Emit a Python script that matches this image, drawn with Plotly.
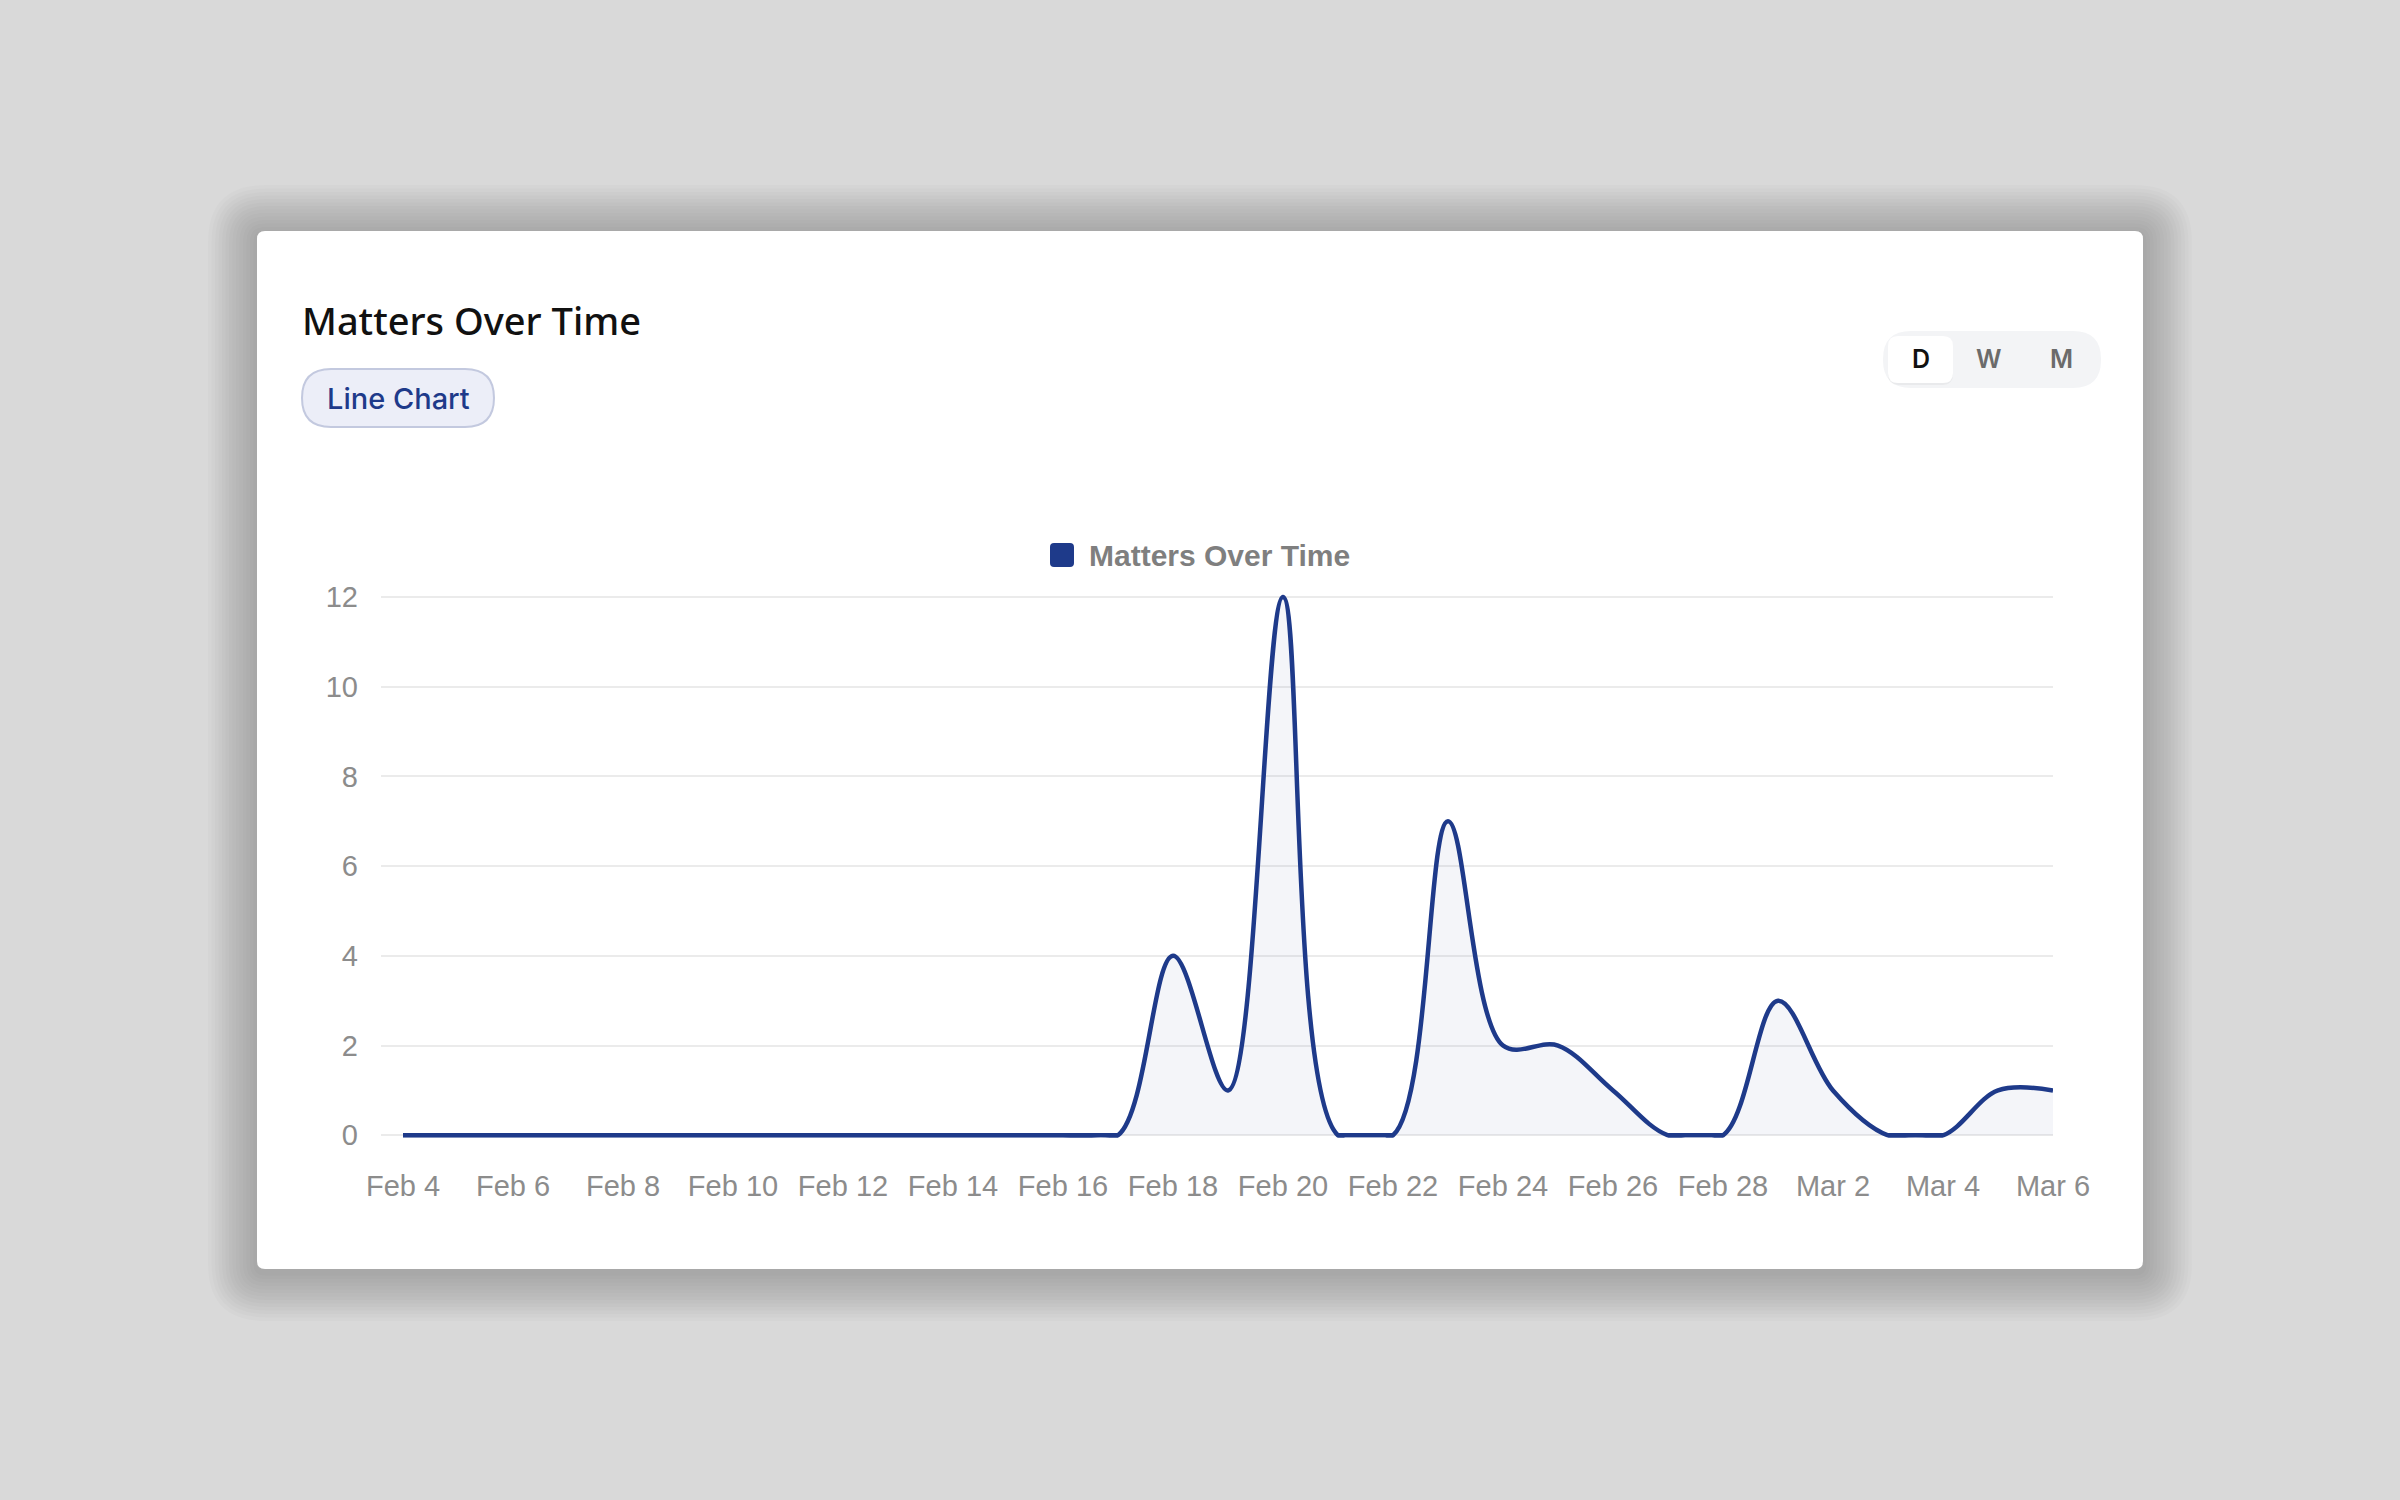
import plotly.graph_objects as go

# daily counts, Feb 4 - Mar 6
dates = ['2025-02-04', '2025-02-05', '2025-02-06', '2025-02-07', '2025-02-08',
         '2025-02-09', '2025-02-10', '2025-02-11', '2025-02-12', '2025-02-13',
         '2025-02-14', '2025-02-15', '2025-02-16', '2025-02-17', '2025-02-18',
         '2025-02-19', '2025-02-20', '2025-02-21', '2025-02-22', '2025-02-23',
         '2025-02-24', '2025-02-25', '2025-02-26', '2025-02-27', '2025-02-28',
         '2025-03-01', '2025-03-02', '2025-03-03', '2025-03-04', '2025-03-05',
         '2025-03-06']
matters = [0, 0, 0, 0, 0, 0, 0, 0, 0, 0, 0, 0, 0, 0, 4,
           1, 12, 0, 0, 7, 2, 2, 1, 0, 0, 3, 1, 0, 0, 1, 1]
y_ticks = [0, 2, 4, 6, 8, 10, 12]
toggle_labels = ['D', 'W', 'M']

series_name = 'Matters Over Time'
card_title = 'Matters Over Time'
badge_text = 'Line Chart'

navy = '#1e3a8a'

W, H = 2400, 1500
L, R, T, B = 381, 347, 588, 349
pw = W - L - R
ph = H - T - B


def px(x, y):
    return (x - L) / pw, (H - B - y) / ph


def rounded(x0, y0, x1, y1, r):
    pts = [('M', [(x0 + r, y0)]), ('L', [(x1 - r, y0)]), ('Q', [(x1, y0), (x1, y0 + r)]),
           ('L', [(x1, y1 - r)]), ('Q', [(x1, y1), (x1 - r, y1)]), ('L', [(x0 + r, y1)]),
           ('Q', [(x0, y1), (x0, y1 - r)]), ('L', [(x0, y0 + r)]), ('Q', [(x0, y0), (x0 + r, y0)])]
    s = ''
    for cmd, ps in pts:
        s += cmd + ' ' + ' '.join('%.5f,%.5f' % px(a, b) for a, b in ps) + ' '
    return s + 'Z'


# flat stretches at zero drawn straight (chart.js keeps the curve inside the area)
flat = []
for i, v in enumerate(matters):
    near = (i > 0 and matters[i - 1] == 0) or (i < len(matters) - 1 and matters[i + 1] == 0)
    flat.append(0 if v == 0 and near else None)

fig = go.Figure()

fig.add_trace(go.Scatter(
    x=dates, y=matters, name=series_name,
    mode='lines', line=dict(color=navy, width=4.5, shape='spline', smoothing=1),
    fill='tozeroy', fillcolor='rgba(30,58,138,0.05)',
    showlegend=False, hoverinfo='x+y'
))
fig.add_trace(go.Scatter(
    x=dates, y=flat, mode='lines', connectgaps=False,
    line=dict(color=navy, width=4.5), showlegend=False, hoverinfo='skip'
))

shapes = []
# card shadow
for k in range(14, 0, -1):
    g = k * 3.5
    shapes.append(dict(type='path', xref='paper', yref='paper', layer='below',
                       path=rounded(257 - g, 231 - g + 3, 2143 + g, 1269 + g + 3, 8 + g),
                       fillcolor='rgba(0,0,0,0.017)', line=dict(width=0)))
# card
shapes.append(dict(type='path', xref='paper', yref='paper', layer='below',
                   path=rounded(257, 231, 2143, 1269, 8),
                   fillcolor='white', line=dict(width=0)))
# badge
shapes.append(dict(type='path', xref='paper', yref='paper', layer='below',
                   path=rounded(302, 369, 494, 427, 29),
                   fillcolor='#eceef8', line=dict(color='#c3c9df', width=2)))
# toggle group
shapes.append(dict(type='path', xref='paper', yref='paper', layer='below',
                   path=rounded(1883, 331, 2101, 388, 28),
                   fillcolor='#f3f4f6', line=dict(width=0)))
shapes.append(dict(type='path', xref='paper', yref='paper', layer='below',
                   path=rounded(1888, 337, 1953, 385, 10),
                   fillcolor='rgba(0,0,0,0.04)', line=dict(width=0)))
shapes.append(dict(type='path', xref='paper', yref='paper', layer='below',
                   path=rounded(1888, 336, 1953, 383, 10),
                   fillcolor='white', line=dict(width=0)))
# legend swatch
shapes.append(dict(type='path', xref='paper', yref='paper', layer='above',
                   path=rounded(1050, 543, 1074, 567, 4),
                   fillcolor=navy, line=dict(width=0)))
# hide spline dips below the zero line
shapes.append(dict(type='rect', xref='paper', yref='y', layer='above',
                   x0=0, x1=1, y0=-0.055, y1=-0.35,
                   fillcolor='white', line=dict(width=0)))

annotations = []


def label(text, x, y, size, color, family, weight='normal', anchor='left'):
    xp, yp = px(x, y)
    annotations.append(dict(text=text, x=xp, y=yp, xref='paper', yref='paper',
                            xanchor=anchor, yanchor='middle', showarrow=False,
                            font=dict(size=size, color=color, family=family, weight=weight)))


label(card_title, 300, 320, 38, '#111111', 'Noto Sans', 500)
label(badge_text, 398, 398, 29, navy, 'Inter', 500, 'center')
label(series_name, 1087, 555, 30, '#7f7f7f', 'Liberation Sans', 'bold')
for t, xc in zip(toggle_labels, [1921, 1989, 2061]):
    label(t, xc, 359, 25, '#111111' if t == 'D' else '#6b6b6b', 'Inter', 600, 'center')

fig.update_layout(
    width=W, height=H,
    margin=dict(l=L, r=R, t=T, b=B, pad=0),
    paper_bgcolor='#d9d9d9', plot_bgcolor='rgba(0,0,0,0)',
    shapes=shapes, annotations=annotations,
    showlegend=False,
    font=dict(family='Liberation Sans', color='#8c8c8c', size=29),
)
fig.update_xaxes(
    type='date', range=['2025-02-03 14:24', '2025-03-06'],
    tick0='2025-02-04', dtick=2 * 86400000, tickformat='%b %-d',
    showgrid=False, zeroline=False, showline=False, ticks='',
    ticklabelstandoff=15, tickfont=dict(size=29, color='#8c8c8c')
)
fig.update_yaxes(
    range=[-0.35, 12.2], tickvals=y_ticks,
    showgrid=True, gridcolor='#ebebeb', gridwidth=2,
    zeroline=False, showline=False, ticks='',
    ticklabelstandoff=22, tickfont=dict(size=29, color='#8c8c8c')
)

# drop the browser's default page margin so the figure sits at 0,0
fig.write_html('out.html', config={'displayModeBar': False},
               post_script="document.body.style.margin='0px';")
